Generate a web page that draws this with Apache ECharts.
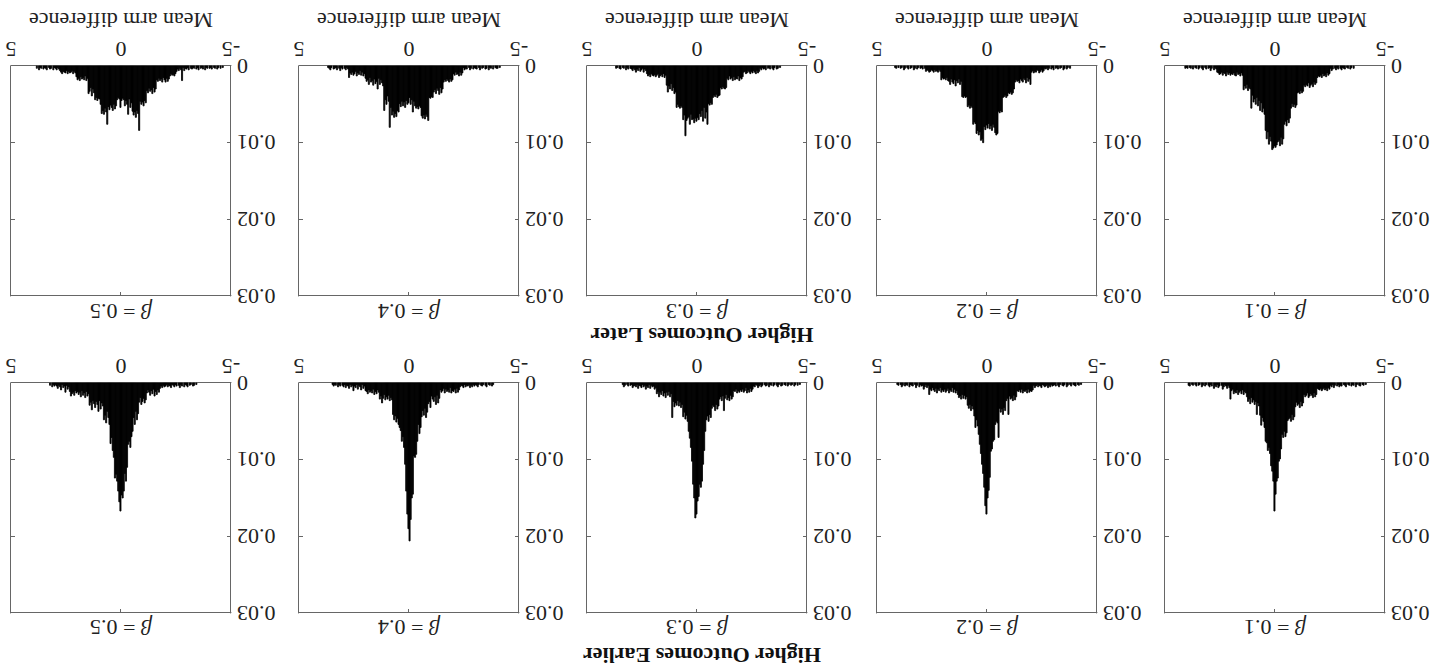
<!DOCTYPE html>
<html>
<head>
<meta charset="utf-8">
<title>Mean arm difference</title>
<script src="https://cdn.jsdelivr.net/npm/echarts@6/dist/echarts.min.js"></script>
<style>
  html, body { margin: 0; padding: 0; background: #fff; }
  /* the figure is shown upside down, so draw it upright and turn the whole box */
  #chart { width: 1435px; height: 668px; transform: rotate(180deg); }
</style>
</head>
<body>
<div id="chart"></div>
<script>
// histogram bins: 0.05 wide from -5 to 5, heights in units of 0.0001
var binStart = -5, binWidth = 0.05;
var betas = ['0.1', '0.2', '0.3', '0.4', '0.5'];
var rowNames = ['Higher Outcomes Earlier', 'Higher Outcomes Later'];
var xName = 'Mean arm difference';

var earlier01 = [
  0,0,0,0,0,0,0,0,0,0,0,0,0,0,0,0,0,2,0,3,
  2,0,4,3,0,2,5,0,3,2,4,0,3,2,0,5,3,2,0,4,
  3,5,2,4,0,3,6,2,5,3,8,6,10,7,9,6,8,10,7,9,
  8,7,15,18,13,19,16,14,17,19,13,16,18,15,26,30,24,32,27,29,
  25,31,44,48,41,50,45,47,49,65,70,63,71,67,86,99,102,124,128,145,
  167,128,115,108,92,84,88,78,76,58,50,45,55,42,30,26,41,24,28,22,
  25,19,27,21,24,18,13,11,15,9,14,10,12,15,9,13,11,14,8,10,
  21,6,3,7,4,2,5,8,3,0,4,6,2,5,3,7,0,4,2,5,
  3,0,2,4,0,3,5,0,2,3,0,4,2,0,3,2,0,4,3,0,
  0,0,0,0,0,0,0,0,0,0,0,0,0,0,0,0,0,0,0,0
];
var earlier02 = [
  0,0,0,0,0,0,0,0,0,0,0,0,0,0,2,0,3,2,0,4,
  3,2,0,4,2,0,3,5,0,2,4,3,0,2,5,3,0,4,2,3,
  4,2,5,3,6,2,4,5,3,2,6,4,3,5,2,4,6,3,9,11,
  10,12,8,13,9,11,10,13,8,12,9,11,10,18,22,16,23,19,21,17,
  41,20,23,36,32,41,34,38,33,71,52,50,54,74,76,86,89,123,140,150,
  171,160,136,118,106,92,80,67,56,48,58,43,34,30,36,28,33,29,18,21,
  16,20,15,21,17,19,15,10,13,8,12,6,11,9,13,7,10,12,8,11,
  9,12,6,10,8,13,7,11,9,6,10,8,15,3,6,2,5,8,3,4,
  2,5,0,3,6,2,0,4,3,2,5,0,3,2,4,0,3,5,2,0,
  3,2,0,0,0,0,0,0,0,0,0,0,0,0,0,0,0,0,0,0
];
var earlier03 = [
  0,0,0,0,0,0,2,0,3,0,2,4,0,2,3,0,2,4,0,3,
  2,0,3,4,0,2,5,3,0,2,4,0,3,2,5,0,3,4,2,0,
  3,5,2,4,6,3,2,5,4,8,11,7,12,9,13,6,10,12,8,11,
  9,12,10,13,8,11,10,18,21,16,23,19,22,15,20,36,17,23,18,21,
  30,34,28,36,31,29,33,45,41,50,43,48,63,88,106,128,136,132,148,154,
  171,176,150,132,102,84,72,63,50,42,47,38,44,28,32,25,30,23,29,26,
  31,24,45,14,18,11,16,12,19,13,17,10,15,12,18,11,14,6,8,4,
  5,3,7,2,6,4,8,3,5,2,6,4,3,7,2,5,3,4,6,2,
  3,0,4,2,0,3,5,2,0,0,0,0,0,0,0,0,0,0,0,0,
  0,0,0,0,0,0,0,0,0,0,0,0,0,0,0,0,0,0,0,0
];
var earlier04 = [
  0,0,0,0,0,0,0,0,0,0,0,0,0,0,0,0,0,0,0,0,
  0,0,0,2,4,0,3,2,0,5,3,0,2,4,3,0,2,5,3,2,
  4,2,5,3,6,2,4,3,5,2,6,4,3,5,9,12,7,13,8,11,
  10,13,6,12,9,11,8,13,7,10,12,9,20,26,16,28,18,24,21,17,
  32,24,27,38,45,33,42,36,44,58,66,54,76,93,97,95,145,150,178,206,
  190,171,141,106,84,70,76,62,58,54,46,51,43,48,41,22,19,23,16,21,
  18,22,15,20,26,17,21,12,9,14,11,15,8,13,10,12,9,14,11,10,
  4,7,2,9,5,3,8,2,6,4,10,3,5,2,7,4,3,6,2,5,
  3,0,4,2,5,0,3,2,4,2,0,0,0,0,0,0,0,0,0,0,
  0,0,0,0,0,0,0,0,0,0,0,0,0,0,0,0,0,0,0,0
];
var earlier05 = [
  0,0,0,0,0,0,0,0,0,0,0,0,0,0,0,0,0,0,0,0,
  0,0,0,0,0,0,0,0,0,0,0,2,0,3,4,0,2,3,0,5,
  3,2,5,0,4,2,6,3,0,4,2,5,3,2,6,4,3,5,2,4,
  5,3,6,4,7,12,9,15,11,17,8,14,10,16,12,9,13,22,26,20,
  24,28,19,25,40,48,37,54,45,63,70,84,76,80,110,128,118,141,150,146,
  167,155,141,128,119,124,97,88,71,79,54,45,37,52,42,48,30,26,34,23,
  37,28,24,32,27,23,35,25,29,14,17,11,19,13,16,10,18,12,15,11,
  13,10,16,12,14,17,11,5,8,3,12,4,6,2,9,5,3,7,4,2,
  4,2,5,0,3,0,0,0,0,0,0,0,0,0,0,0,0,0,0,0,
  0,0,0,0,0,0,0,0,0,0,0,0,0,0,0,0,0,0,0,0
];

var later01 = [
  0,0,0,0,0,0,0,0,0,0,0,0,0,0,0,0,0,0,0,0,
  0,0,0,0,0,0,0,0,3,0,2,4,0,3,2,0,4,3,2,5,
  3,0,4,2,5,3,0,4,6,3,10,12,9,14,11,13,10,15,12,14,
  13,15,22,24,21,27,23,25,28,22,26,24,27,25,33,35,32,36,34,35,
  51,54,50,53,49,55,68,74,70,78,72,76,95,102,93,104,97,99,103,106,
  104,107,109,98,92,102,86,95,84,63,55,60,48,58,45,52,41,50,43,47,
  38,55,30,28,32,24,29,26,31,12,9,13,10,11,8,13,12,9,11,10,
  12,9,11,8,13,10,9,12,8,10,11,9,8,4,2,5,0,3,6,2,
  3,0,4,2,0,5,3,0,2,4,0,3,2,0,4,0,3,2,0,3,
  2,3,0,0,0,0,0,0,0,0,0,0,0,0,0,0,0,0,0,0
];
var later02 = [
  0,0,0,0,0,0,0,0,0,0,0,0,0,0,0,0,0,0,0,0,
  0,0,0,0,3,0,2,4,0,3,5,0,2,3,0,4,2,3,0,5,
  2,4,0,3,5,2,4,3,6,8,5,7,9,6,5,8,7,9,6,8,
  24,17,20,15,22,18,16,21,19,17,22,19,20,18,21,30,35,37,34,36,
  35,39,41,38,40,41,60,58,61,59,88,90,87,80,76,84,78,82,75,81,
  77,83,79,100,95,97,86,90,84,88,75,73,76,54,52,55,51,53,40,41,
  39,41,40,20,24,17,22,19,26,18,23,21,17,24,20,19,15,18,16,17,
  15,18,7,5,8,6,7,5,8,6,5,7,8,6,5,7,3,0,4,2,
  3,0,2,4,0,3,5,0,2,3,0,4,2,0,3,5,0,2,3,0,
  2,0,3,2,0,0,0,0,0,0,0,0,0,0,0,0,0,0,0,0
];
var later03 = [
  0,0,0,0,0,0,0,0,0,0,0,0,0,0,0,0,0,0,0,0,
  0,0,0,0,2,0,3,4,0,2,5,3,0,4,2,3,0,5,3,4,
  2,5,3,7,9,6,10,8,6,9,7,10,8,6,9,10,7,8,14,17,
  15,19,13,17,16,18,14,19,15,17,13,18,16,28,30,29,27,30,28,38,
  39,41,37,40,38,41,50,48,51,49,76,60,68,54,72,58,66,62,70,67,
  72,68,74,69,70,63,76,66,68,71,91,64,70,54,52,55,53,50,54,34,
  36,28,32,23,30,26,34,25,12,15,10,14,11,13,15,10,12,14,11,13,
  12,10,14,11,13,10,6,4,8,3,5,7,2,6,4,8,5,3,6,4,
  3,0,4,2,5,0,3,2,0,4,3,0,2,3,0,0,0,0,0,0,
  0,0,0,0,0,0,0,0,0,0,0,0,0,0,0,0,0,0,0,0
];
var later04 = [
  0,0,0,0,0,0,0,0,0,0,0,0,0,0,0,0,0,2,0,3,
  3,2,0,4,0,3,2,5,0,3,4,0,2,3,0,5,2,0,4,3,
  2,4,0,3,5,2,0,4,3,5,2,9,12,8,13,10,11,8,12,10,
  18,20,17,21,19,17,20,18,21,30,35,28,37,32,29,36,31,34,41,40,
  42,41,71,66,63,69,64,68,65,54,52,56,53,55,52,46,60,44,50,41,
  48,50,45,54,47,52,46,53,49,60,58,66,62,67,59,64,54,80,46,39,
  50,44,58,26,22,18,24,16,30,20,23,17,25,19,21,15,24,18,20,16,
  10,13,8,12,6,11,9,13,7,10,12,8,11,9,15,4,2,5,3,0,
  4,2,6,3,0,5,2,3,4,0,2,5,3,2,0,0,0,0,0,0,
  0,0,0,0,0,0,0,0,0,0,0,0,0,0,0,0,0,0,0,0
];
var later05 = [
  0,0,0,0,0,0,0,2,0,3,0,2,4,0,3,2,0,4,2,3,
  0,3,2,5,0,4,2,3,0,5,2,4,0,3,2,4,3,0,5,2,
  4,3,6,2,19,5,3,6,4,7,10,13,11,12,10,13,17,20,16,21,
  18,15,21,17,19,16,20,18,30,34,28,36,31,33,29,35,32,48,45,52,
  47,50,46,84,62,58,67,60,64,59,48,54,43,63,50,45,52,44,42,45,
  54,43,41,44,52,56,50,58,54,51,57,53,76,60,55,63,58,62,50,43,
  42,45,41,44,35,30,39,28,33,36,16,19,13,18,15,17,14,19,16,18,
  14,9,7,10,6,8,9,7,10,6,9,8,7,10,8,6,4,2,5,3,
  2,5,0,3,4,2,0,5,3,2,4,0,3,2,5,0,3,0,0,0,
  0,0,0,0,0,0,0,0,0,0,0,0,0,0,0,0,0,0,0,0
];

var rows = [
  [earlier01, earlier02, earlier03, earlier04, earlier05],
  [later01, later02, later03, later04, later05]
];

var chart = echarts.init(document.getElementById('chart'), null, {renderer: 'svg'});

var font = '"Liberation Serif", "Times New Roman", serif';
var boxColor = '#666';
var colLeft = [50, 338, 628, 916, 1204];
var rowTop = [55, 372];
var titleY = [41, 357];
var headY = [13, 333];
var boxW = 220, boxH = 230;

function renderBar(params, api) {
  var p0 = api.coord([api.value(0), 0]);
  var p1 = api.coord([api.value(1), api.value(2)]);
  return {
    type: 'rect',
    shape: {x: p0[0], y: p1[1], width: p1[0] - p0[0], height: p0[1] - p1[1]},
    style: {fill: '#000', stroke: '#000', lineWidth: 0.8}
  };
}

var grids = [], xAxes = [], yAxes = [], series = [], graphics = [];

rows.forEach(function (row, r) {
  row.forEach(function (heights, c) {
    var g = grids.length;
    grids.push({left: colLeft[c], top: rowTop[r], width: boxW, height: boxH});

    var line = {show: true, onZero: false, lineStyle: {color: boxColor, width: 1}};
    var tick = {show: true, inside: true, length: 4, lineStyle: {color: boxColor}};
    xAxes.push({
      gridIndex: g, type: 'value', min: -5, max: 5, interval: 5, position: 'bottom',
      axisLine: line, axisTick: tick, splitLine: {show: false},
      axisLabel: {fontFamily: font, fontSize: 22, color: '#222', margin: 6, showMinLabel: true, showMaxLabel: true}
    });
    xAxes.push({
      gridIndex: g, type: 'value', min: -5, max: 5, interval: 5, position: 'top',
      axisLine: line, axisTick: tick, splitLine: {show: false}, axisLabel: {show: false}
    });
    yAxes.push({
      gridIndex: g, type: 'value', min: 0, max: 0.03, interval: 0.01, position: 'left',
      axisLine: line, axisTick: tick, splitLine: {show: false},
      axisLabel: {fontFamily: font, fontSize: 22, color: '#222', margin: 6,
        formatter: function (v) { return v === 0 ? '0' : v.toFixed(2); }}
    });
    yAxes.push({
      gridIndex: g, type: 'value', min: 0, max: 0.03, interval: 0.01, position: 'right',
      axisLine: line, axisTick: tick, splitLine: {show: false}, axisLabel: {show: false}
    });

    var bins = [];
    heights.forEach(function (h, i) {
      if (h > 0) {
        var x0 = binStart + i * binWidth;
        bins.push([x0, x0 + binWidth, h / 10000]);
      }
    });
    series.push({
      type: 'custom', xAxisIndex: 2 * g, yAxisIndex: 2 * g,
      encode: {x: [0, 1], y: 2}, renderItem: renderBar, data: bins, silent: true
    });

    var cx = colLeft[c] + boxW / 2;
    // panel title
    graphics.push({
      type: 'text', x: cx, y: titleY[r],
      style: {
        text: '{b|β} = ' + betas[c],
        font: '22px ' + font, fill: '#222',
        textAlign: 'center', textVerticalAlign: 'middle',
        rich: {b: {fontStyle: 'italic', fontFamily: font, fontSize: 22, fill: '#222'}}
      }
    });
    if (r === 1) {
      graphics.push({
        type: 'text', x: cx, y: 648,
        style: {text: xName, font: '22px ' + font, fill: '#222', textAlign: 'center', textVerticalAlign: 'middle'}
      });
    }
  });
});

// row headings
rowNames.forEach(function (name, r) {
  graphics.push({
    type: 'text', x: 733, y: headY[r],
    style: {text: name, font: 'bold 22px ' + font, fill: '#111', textAlign: 'center', textVerticalAlign: 'middle'}
  });
});

chart.setOption({
  animation: false,
  backgroundColor: '#fff',
  grid: grids,
  xAxis: xAxes,
  yAxis: yAxes,
  series: series,
  graphic: graphics
});
</script>
</body>
</html>
